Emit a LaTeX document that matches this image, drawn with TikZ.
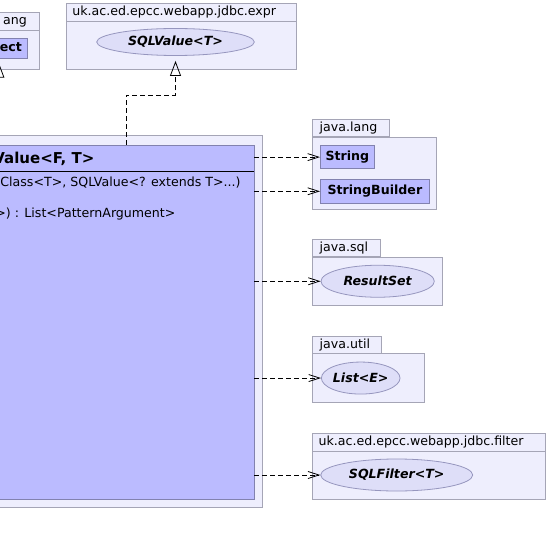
\documentclass[tikz,border=0pt]{standalone}
\usepackage{fontspec}
\setmainfont{DejaVu Sans}
\usetikzlibrary{positioning,shapes.geometric,arrows.meta}
\definecolor{pkgfill}{RGB}{238,238,253}
\definecolor{pkgline}{RGB}{165,165,182}
\definecolor{clsfill}{RGB}{187,187,255}
\definecolor{clsline}{RGB}{130,130,175}
\definecolor{ifcfill}{RGB}{222,222,248}
\definecolor{ifcline}{RGB}{150,150,190}
\newcommand\pkgfont{\fontsize{12.6}{14}\selectfont}
\tikzset{
  % Specifications for style of nodes:
  pkg/.style = {
    rectangle,
    draw=pkgline,
    fill=pkgfill,
    inner sep=0pt
  },
  pkghead/.style = {
    inner xsep=6pt,
    inner ysep=0pt,
    minimum height=18pt,
    text height=9pt,
    text depth=2.5pt,
    font=\pkgfont
  },
  pkgtab/.style = {
    pkg,
    anchor=south west,
    inner xsep=7pt,
    minimum height=16.7pt,
    text height=9.5pt,
    text depth=2pt,
    align=left,
    font=\pkgfont
  },
  cls/.style = {
    rectangle,
    draw=clsline,
    fill=clsfill,
    inner xsep=5pt,
    inner ysep=0pt,
    minimum height=23.4pt,
    font=\bfseries\pkgfont
  },
  iface/.style = {
    ellipse,
    draw=ifcline,
    fill=ifcfill,
    inner sep=0pt,
    minimum height=32pt,
    font=\bfseries\itshape\pkgfont
  },
  member/.style = {
    anchor=base west,
    inner sep=0pt,
    font=\pkgfont
  },
  % Specifications for style of connectors:
  dep/.style = {
    dash pattern=on 5pt off 3pt,
    -{Straight Barb[length=11pt,width=7pt]}
  },
  realize/.style = {
    dash pattern=on 5pt off 3pt,
    -{Triangle[open,length=15pt,width=11pt]},
    shorten >=5pt
  },
  extends/.style = {
    -{Triangle[open,length=15pt,width=11pt]},
    shorten >=4pt
  },
}

\begin{document}
\begin{tikzpicture}[x=1pt, y=-1pt, line width=0.8pt]
    \useasboundingbox (0,0) rectangle (548,545);
    \clip (0,0) rectangle (548,545);
    % Packages on the top
    \node[pkg, anchor=north east, minimum width=80pt, minimum height=57pt] (objpkg) at (39.3,12) {};
    \node[pkghead, anchor=north east, inner xsep=12pt] (objhead) at (objpkg.north east) {\hphantom{l}ang};
    \draw[pkgline] (objpkg.west |- objhead.south) -- (objpkg.east |- objhead.south);
    \node[cls, anchor=east, inner xsep=5pt, minimum height=20pt] (obj) at (27.3,48.3) {Object};

    \node[pkg, anchor=north west, minimum width=230pt, minimum height=66.3pt] (exprpkg) at (66,2.7) {};
    \node[pkghead, anchor=north west] (exprhead) at (exprpkg.north west) {uk.ac.ed.epcc.webapp.jdbc.expr};
    \draw[pkgline] (exprpkg.west |- exprhead.south) -- (exprpkg.east |- exprhead.south);
    \node[iface, minimum width=157.6pt, minimum height=27pt] (sqlv) at (175.5,42) {SQLValue<T>};

    % Package of the class itself
    \node[pkg, anchor=north east, minimum width=310pt, minimum height=372pt] (mainpkg) at (262.7,135.3) {};
    \node[cls, anchor=north east, minimum width=300pt, minimum height=354.3pt] (cls) at (254.3,145) {};
    \coordinate (sep) at (0,171.7);
    \draw[line width=1.4pt] (cls.west |- sep) -- (cls.east |- sep);
    \node[member, font=\bfseries\fontsize{15}{17}\selectfont] (clsname) at (-7,163.5) {Value<F, T>};
    \node[member] (clsctor) at (0,186.7) {Class<T>, SQLValue<? extends T>...)};
    \node[member] (clsop)   at (-5,217.2) {>) : List<PatternArgument>};

    % Packages on the right
    \node[pkg, anchor=north west, minimum width=123.7pt, minimum height=72.3pt] (langpkg) at (312.3,136.7) {};
    \node[pkgtab, text width=63pt] (langtab) at (langpkg.north west) {java.lang};
    \node[cls, minimum width=54pt, below right=8.3pt and 7.7pt of langpkg.north west] (str) {String};
    \node[cls, minimum width=109pt, below=10pt of str.south west, anchor=north west] (strb) {StringBuilder};

    \node[pkg, anchor=north west, minimum width=130pt, minimum height=48.3pt] (sqlpkg) at (312.3,256.7) {};
    \node[pkgtab, text width=53.7pt] (sqltab) at (sqlpkg.north west) {java.sql};
    \node[iface, minimum width=113.3pt, right=8.3pt of sqlpkg.west] (rset) {ResultSet};

    \node[pkg, anchor=north west, minimum width=111.7pt, minimum height=48.7pt] (utilpkg) at (312.3,353.3) {};
    \node[pkgtab, text width=54.4pt] (utiltab) at (utilpkg.north west) {java.util};
    \node[iface, minimum width=65pt, right=8.7pt of utilpkg.west] (lst) {List<E>};

    \node[pkg, anchor=north west, minimum width=232.7pt, minimum height=66.3pt] (filterpkg) at (312.3,432.7) {};
    \node[pkghead, anchor=north west] (filterhead) at (filterpkg.north west) {uk.ac.ed.epcc.webapp.jdbc.filter};
    \draw[pkgline] (filterpkg.west |- filterhead.south) -- (filterpkg.east |- filterhead.south);
    \node[iface, minimum width=152pt] (sqlf) at (396.7,475) {SQLFilter<T>};

    % Connectors
    \coordinate (bend) at (126,95);
    \draw[realize] (bend |- cls.north) -- (bend) -| (sqlv.south);
    \draw[extends] (cls.north -| obj.south) -- (obj.south);
    \draw[dep] (cls.east |- str)  -- (str);
    \draw[dep] (cls.east |- strb) -- (strb);
    \draw[dep] (cls.east |- rset) -- (rset);
    \draw[dep] (cls.east |- lst)  -- (lst);
    \draw[dep] (cls.east |- sqlf) -- (sqlf);
\end{tikzpicture}
\end{document}
